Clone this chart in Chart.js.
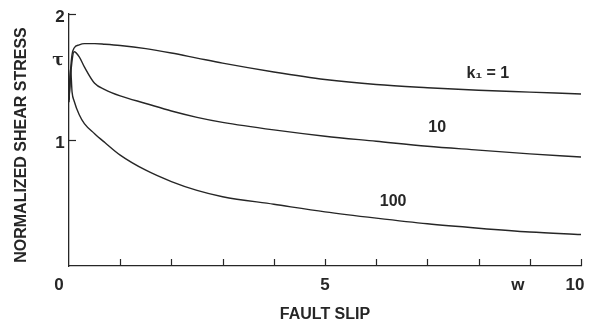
<!DOCTYPE html>
<html>
<head>
<meta charset="utf-8">
<script src="https://cdn.jsdelivr.net/npm/chart.js@4.4.1/dist/chart.umd.min.js"></script>
<style>
  html, body { margin: 0; padding: 0; background: #fff; }
  #wrap { width: 595px; height: 323px; }
</style>
</head>
<body>
<div id="wrap"><canvas id="chart" width="595" height="323"></canvas></div>
<script>
// values
const slip = [0, 0.03, 0.06, 0.1, 0.2, 0.3, 0.5, 0.7, 1, 1.5, 2, 2.5, 3, 4, 5, 6, 7, 8, 9, 10];
const stressK1 = [1.32, 1.55, 1.68, 1.73, 1.755, 1.765, 1.765, 1.76, 1.75, 1.725, 1.69, 1.65, 1.61, 1.54, 1.48, 1.44, 1.415, 1.395, 1.38, 1.365];
const stressK10 = [1.32, 1.5, 1.63, 1.70, 1.66, 1.58, 1.45, 1.40, 1.35, 1.29, 1.23, 1.18, 1.14, 1.08, 1.03, 0.99, 0.95, 0.92, 0.89, 0.865];
const stressK100 = [1.3, 1.57, 1.38, 1.31, 1.2, 1.13, 1.05, 0.98, 0.88, 0.76, 0.67, 0.60, 0.55, 0.49, 0.43, 0.38, 0.335, 0.30, 0.27, 0.25];
const seriesNames = ['k\u2081 = 1', '10', '100'];

const xTicks = [1, 2, 3, 4, 5, 6, 7, 8, 9, 10];
const xTickLabels = { 0: '0', 5: '5', 9: 'w', 10: '10' };
const yTicks = [1, 2];
const tauValue = 1.63;

// where the curve names sit (data coords)
const nameAnchors = [[8.18, 1.53], [7.19, 1.095], [6.33, 0.508]];

const ink = '#262626';
const font = 'bold 16px "Liberation Sans", Arial, sans-serif';

function toPoints(ys) {
    return slip.map((x, i) => ({ x: x, y: ys[i] }));
}

const annotatePlugin = {
    id: 'annotate',
    afterDraw(chart) {
        const ctx = chart.ctx;
        const xs = chart.scales.x;
        const ys = chart.scales.y;
        const area = chart.chartArea;
        ctx.save();
        ctx.strokeStyle = ink;
        ctx.fillStyle = ink;
        ctx.lineWidth = 1.2;

        // inward tick marks
        xTicks.forEach(v => {
            const px = Math.round(xs.getPixelForValue(v)) + 0.5;
            ctx.beginPath();
            ctx.moveTo(px, area.bottom);
            ctx.lineTo(px, area.bottom - 7);
            ctx.stroke();
        });
        yTicks.forEach(v => {
            const py = Math.round(ys.getPixelForValue(v)) + 0.5;
            ctx.beginPath();
            ctx.moveTo(area.left, py);
            ctx.lineTo(area.left + 7, py);
            ctx.stroke();
        });

        // x tick labels (scan offsets kept roughly)
        ctx.font = 'bold 17px "Liberation Sans", Arial, sans-serif';
        ctx.textAlign = 'center';
        ctx.textBaseline = 'middle';
        const xOffsets = { 0: -10, 5: 0, 9: -12, 10: -6 };
        Object.keys(xTickLabels).forEach(k => {
            const v = Number(k);
            ctx.fillText(xTickLabels[k], xs.getPixelForValue(v) + xOffsets[k], area.bottom + 19);
        });

        // y tick labels
        ctx.textAlign = 'center';
        yTicks.forEach(v => {
            ctx.fillText(String(v), area.left - 9, ys.getPixelForValue(v) + 3);
        });
        ctx.font = 'bold 17px "DejaVu Serif", serif';
        ctx.fillText('\u03c4', area.left - 11, ys.getPixelForValue(tauValue));

        // axis titles
        ctx.font = font;
        ctx.fillText('FAULT SLIP', xs.getPixelForValue(5), area.bottom + 49);
        ctx.save();
        ctx.translate(22, (area.top + area.bottom) / 2 + 5);
        ctx.rotate(-Math.PI / 2);
        ctx.fillText('NORMALIZED SHEAR STRESS', 0, 0);
        ctx.restore();

        // curve names
        ctx.font = font;
        nameAnchors.forEach((a, i) => {
            ctx.fillText(seriesNames[i], xs.getPixelForValue(a[0]), ys.getPixelForValue(a[1]));
        });
        ctx.restore();
    }
};

const lineStyle = {
    borderColor: ink,
    borderWidth: 1.4,
    pointRadius: 0,
    fill: false,
    cubicInterpolationMode: 'monotone'
};

new Chart(document.getElementById('chart'), {
    type: 'line',
    data: {
        datasets: [
            Object.assign({ label: seriesNames[0], data: toPoints(stressK1) }, lineStyle),
            Object.assign({ label: seriesNames[1], data: toPoints(stressK10) }, lineStyle),
            Object.assign({ label: seriesNames[2], data: toPoints(stressK100) }, lineStyle)
        ]
    },
    options: {
        responsive: false,
        animation: false,
        layout: { padding: { left: 69, right: 14, top: 14, bottom: 57 } },
        plugins: {
            legend: { display: false },
            tooltip: { enabled: false }
        },
        scales: {
            x: {
                type: 'linear',
                min: 0,
                max: 10,
                ticks: { display: false },
                grid: { display: false },
                border: { display: true, color: ink, width: 1.3 },
                afterFit(scale) { scale.height = 0; }
            },
            y: {
                min: 0,
                max: 2,
                ticks: { display: false },
                grid: { display: false },
                border: { display: true, color: ink, width: 1.3 },
                afterFit(scale) { scale.width = 0; }
            }
        }
    },
    plugins: [annotatePlugin]
});
</script>
</body>
</html>
